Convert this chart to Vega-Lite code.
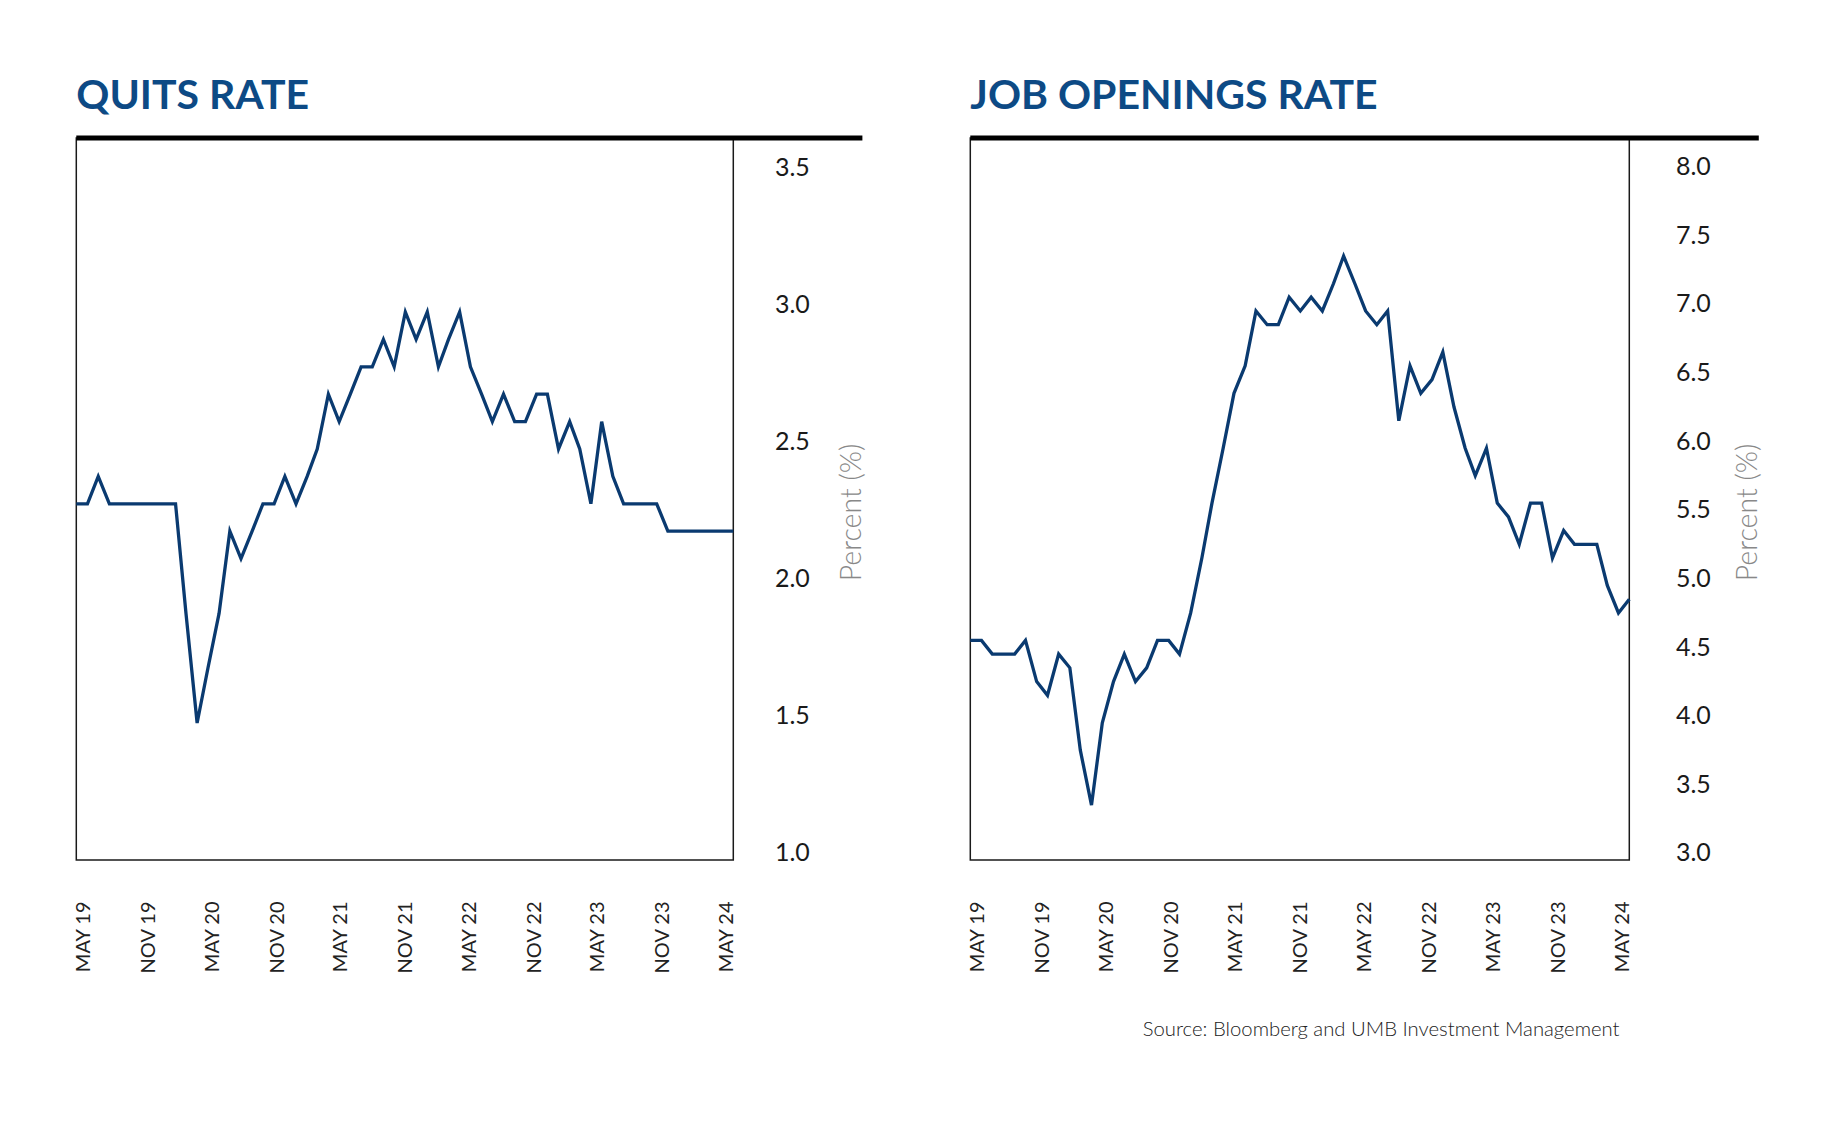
{
  "$schema": "https://vega.github.io/schema/vega-lite/v6.json",
  "background": "white",
  "padding": {"left": 68.3, "top": 75, "right": 10, "bottom": 10},
  "bounds": "flush",
  "spacing": 237,
  "title": {
    "text": "Source: Bloomberg and UMB Investment Management",
    "orient": "bottom",
    "anchor": "end",
    "frame": "bounds",
    "offset": 46,
    "dx": -143,
    "baseline": "top",
    "font": "Lato",
    "fontSize": 20.3,
    "fontWeight": 300,
    "color": "#222222"
  },
  "hconcat": [
    {
      "width": 657,
      "height": 722,
      "title": {"text": "QUITS RATE"},
      "layer": [
        {
          "data": {"values": [
            {"date": "2019/05/01", "v": 2.3}, {"date": "2019/06/01", "v": 2.3}, {"date": "2019/07/01", "v": 2.4},
            {"date": "2019/08/01", "v": 2.3}, {"date": "2019/09/01", "v": 2.3}, {"date": "2019/10/01", "v": 2.3},
            {"date": "2019/11/01", "v": 2.3}, {"date": "2019/12/01", "v": 2.3}, {"date": "2020/01/01", "v": 2.3},
            {"date": "2020/02/01", "v": 2.3}, {"date": "2020/03/01", "v": 1.9}, {"date": "2020/04/01", "v": 1.5},
            {"date": "2020/05/01", "v": 1.7}, {"date": "2020/06/01", "v": 1.9}, {"date": "2020/07/01", "v": 2.2},
            {"date": "2020/08/01", "v": 2.1}, {"date": "2020/09/01", "v": 2.2}, {"date": "2020/10/01", "v": 2.3},
            {"date": "2020/11/01", "v": 2.3}, {"date": "2020/12/01", "v": 2.4}, {"date": "2021/01/01", "v": 2.3},
            {"date": "2021/02/01", "v": 2.4}, {"date": "2021/03/01", "v": 2.5}, {"date": "2021/04/01", "v": 2.7},
            {"date": "2021/05/01", "v": 2.6}, {"date": "2021/06/01", "v": 2.7}, {"date": "2021/07/01", "v": 2.8},
            {"date": "2021/08/01", "v": 2.8}, {"date": "2021/09/01", "v": 2.9}, {"date": "2021/10/01", "v": 2.8},
            {"date": "2021/11/01", "v": 3.0}, {"date": "2021/12/01", "v": 2.9}, {"date": "2022/01/01", "v": 3.0},
            {"date": "2022/02/01", "v": 2.8}, {"date": "2022/03/01", "v": 2.9}, {"date": "2022/04/01", "v": 3.0},
            {"date": "2022/05/01", "v": 2.8}, {"date": "2022/06/01", "v": 2.7}, {"date": "2022/07/01", "v": 2.6},
            {"date": "2022/08/01", "v": 2.7}, {"date": "2022/09/01", "v": 2.6}, {"date": "2022/10/01", "v": 2.6},
            {"date": "2022/11/01", "v": 2.7}, {"date": "2022/12/01", "v": 2.7}, {"date": "2023/01/01", "v": 2.5},
            {"date": "2023/02/01", "v": 2.6}, {"date": "2023/03/01", "v": 2.5}, {"date": "2023/04/01", "v": 2.3},
            {"date": "2023/05/01", "v": 2.6}, {"date": "2023/06/01", "v": 2.4}, {"date": "2023/07/01", "v": 2.3},
            {"date": "2023/08/01", "v": 2.3}, {"date": "2023/09/01", "v": 2.3}, {"date": "2023/10/01", "v": 2.3},
            {"date": "2023/11/01", "v": 2.2}, {"date": "2023/12/01", "v": 2.2}, {"date": "2024/01/01", "v": 2.2},
            {"date": "2024/02/01", "v": 2.2}, {"date": "2024/03/01", "v": 2.2}, {"date": "2024/04/01", "v": 2.2},
            {"date": "2024/05/01", "v": 2.2}
          ]},
          "mark": {"type": "line", "color": "#0a3a70", "strokeWidth": 3.3, "clip": false},
          "encoding": {
            "x": {
              "field": "date", "type": "temporal",
              "scale": {"domain": [{"year": 2019, "month": 5, "date": 1}, {"year": 2024, "month": 5, "date": 1}], "nice": false},
              "axis": {
                "values": [
                  {"year": 2019, "month": 5, "date": 1}, {"year": 2019, "month": 11, "date": 1},
                  {"year": 2020, "month": 5, "date": 1}, {"year": 2020, "month": 11, "date": 1},
                  {"year": 2021, "month": 5, "date": 1}, {"year": 2021, "month": 11, "date": 1},
                  {"year": 2022, "month": 5, "date": 1}, {"year": 2022, "month": 11, "date": 1},
                  {"year": 2023, "month": 5, "date": 1}, {"year": 2023, "month": 11, "date": 1},
                  {"year": 2024, "month": 5, "date": 1}
                ],
                "labelExpr": "upper(timeFormat(datum.value, '%b %y'))",
                "labelAngle": 270,
                "labelPadding": 41,
                "labelOffset": {"expr": "7 - 13.4 * datum.index"},
                "labelFlush": false,
                "labelOverlap": false,
                "labelBound": false,
                "ticks": false,
                "tickSize": 0,
                "domain": false,
                "grid": false,
                "labelFontSize": 20,
                "labelColor": "#222222",
                "title": null
              }
            },
            "y": {
              "field": "v", "type": "quantitative",
              "scale": {"domain": [1, 3.635], "nice": false, "zero": false},
              "axis": {
                "orient": "right",
                "values": [1, 1.5, 2, 2.5, 3, 3.5],
                "format": ".1f",
                "labelAlign": "right",
                "labelPadding": 76,
                "labelOffset": -7,
                "labelFontSize": 25,
                "labelColor": "#1a1a1a",
                "labelFlush": false,
                "labelOverlap": false,
                "ticks": false,
                "tickSize": 0,
                "domain": false,
                "grid": false,
                "title": "Percent (%)",
                "titleAngle": 270,
                "titleX": 118,
                "titleY": 374,
                "titleAlign": "center",
                "titleBaseline": "middle",
                "titleFont": "Lato",
                "titleFontSize": 28.5,
                "titleFontWeight": 300,
                "titleColor": "#888888"
              }
            }
          }
        },
        {
          "data": {"values": [{}]},
          "mark": {"type": "rule", "color": "#000000", "strokeWidth": 5, "clip": false},
          "encoding": {
            "x": {"datum": {"year": 2019, "month": 5, "date": 1}, "type": "temporal"},
            "x2": {"datum": {"year": 2025, "month": 4, "date": 25}},
            "y": {"datum": 3.635, "type": "quantitative"}
          }
        }
      ]
    },
    {
      "width": 659,
      "height": 722,
      "title": {"text": "JOB OPENINGS RATE"},
      "layer": [
        {
          "data": {"values": [
            {"date": "2019/05/01", "v": 4.6}, {"date": "2019/06/01", "v": 4.6}, {"date": "2019/07/01", "v": 4.5},
            {"date": "2019/08/01", "v": 4.5}, {"date": "2019/09/01", "v": 4.5}, {"date": "2019/10/01", "v": 4.6},
            {"date": "2019/11/01", "v": 4.3}, {"date": "2019/12/01", "v": 4.2}, {"date": "2020/01/01", "v": 4.5},
            {"date": "2020/02/01", "v": 4.4}, {"date": "2020/03/01", "v": 3.8}, {"date": "2020/04/01", "v": 3.4},
            {"date": "2020/05/01", "v": 4.0}, {"date": "2020/06/01", "v": 4.3}, {"date": "2020/07/01", "v": 4.5},
            {"date": "2020/08/01", "v": 4.3}, {"date": "2020/09/01", "v": 4.4}, {"date": "2020/10/01", "v": 4.6},
            {"date": "2020/11/01", "v": 4.6}, {"date": "2020/12/01", "v": 4.5}, {"date": "2021/01/01", "v": 4.8},
            {"date": "2021/02/01", "v": 5.2}, {"date": "2021/03/01", "v": 5.6}, {"date": "2021/04/01", "v": 6.0},
            {"date": "2021/05/01", "v": 6.4}, {"date": "2021/06/01", "v": 6.6}, {"date": "2021/07/01", "v": 7.0},
            {"date": "2021/08/01", "v": 6.9}, {"date": "2021/09/01", "v": 6.9}, {"date": "2021/10/01", "v": 7.1},
            {"date": "2021/11/01", "v": 7.0}, {"date": "2021/12/01", "v": 7.1}, {"date": "2022/01/01", "v": 7.0},
            {"date": "2022/02/01", "v": 7.2}, {"date": "2022/03/01", "v": 7.4}, {"date": "2022/04/01", "v": 7.2},
            {"date": "2022/05/01", "v": 7.0}, {"date": "2022/06/01", "v": 6.9}, {"date": "2022/07/01", "v": 7.0},
            {"date": "2022/08/01", "v": 6.2}, {"date": "2022/09/01", "v": 6.6}, {"date": "2022/10/01", "v": 6.4},
            {"date": "2022/11/01", "v": 6.5}, {"date": "2022/12/01", "v": 6.7}, {"date": "2023/01/01", "v": 6.3},
            {"date": "2023/02/01", "v": 6.0}, {"date": "2023/03/01", "v": 5.8}, {"date": "2023/04/01", "v": 6.0},
            {"date": "2023/05/01", "v": 5.6}, {"date": "2023/06/01", "v": 5.5}, {"date": "2023/07/01", "v": 5.3},
            {"date": "2023/08/01", "v": 5.6}, {"date": "2023/09/01", "v": 5.6}, {"date": "2023/10/01", "v": 5.2},
            {"date": "2023/11/01", "v": 5.4}, {"date": "2023/12/01", "v": 5.3}, {"date": "2024/01/01", "v": 5.3},
            {"date": "2024/02/01", "v": 5.3}, {"date": "2024/03/01", "v": 5.0}, {"date": "2024/04/01", "v": 4.8},
            {"date": "2024/05/01", "v": 4.9}
          ]},
          "mark": {"type": "line", "color": "#0a3a70", "strokeWidth": 3.3, "clip": false},
          "encoding": {
            "x": {
              "field": "date", "type": "temporal",
              "scale": {"domain": [{"year": 2019, "month": 5, "date": 1}, {"year": 2024, "month": 5, "date": 1}], "nice": false},
              "axis": {
                "values": [
                  {"year": 2019, "month": 5, "date": 1}, {"year": 2019, "month": 11, "date": 1},
                  {"year": 2020, "month": 5, "date": 1}, {"year": 2020, "month": 11, "date": 1},
                  {"year": 2021, "month": 5, "date": 1}, {"year": 2021, "month": 11, "date": 1},
                  {"year": 2022, "month": 5, "date": 1}, {"year": 2022, "month": 11, "date": 1},
                  {"year": 2023, "month": 5, "date": 1}, {"year": 2023, "month": 11, "date": 1},
                  {"year": 2024, "month": 5, "date": 1}
                ],
                "labelExpr": "upper(timeFormat(datum.value, '%b %y'))",
                "labelAngle": 270,
                "labelPadding": 41,
                "labelOffset": {"expr": "7 - 13.4 * datum.index"},
                "labelFlush": false,
                "labelOverlap": false,
                "labelBound": false,
                "ticks": false,
                "tickSize": 0,
                "domain": false,
                "grid": false,
                "labelFontSize": 20,
                "labelColor": "#222222",
                "title": null
              }
            },
            "y": {
              "field": "v", "type": "quantitative",
              "scale": {"domain": [3, 8.26], "nice": false, "zero": false},
              "axis": {
                "orient": "right",
                "values": [3, 3.5, 4, 4.5, 5, 5.5, 6, 6.5, 7, 7.5, 8],
                "format": ".1f",
                "labelAlign": "right",
                "labelPadding": 81,
                "labelOffset": -7,
                "labelFontSize": 25,
                "labelColor": "#1a1a1a",
                "labelFlush": false,
                "labelOverlap": false,
                "ticks": false,
                "tickSize": 0,
                "domain": false,
                "grid": false,
                "title": "Percent (%)",
                "titleAngle": 270,
                "titleX": 118,
                "titleY": 374,
                "titleAlign": "center",
                "titleBaseline": "middle",
                "titleFont": "Lato",
                "titleFontSize": 28.5,
                "titleFontWeight": 300,
                "titleColor": "#888888"
              }
            }
          }
        },
        {
          "data": {"values": [{}]},
          "mark": {"type": "rule", "color": "#000000", "strokeWidth": 5, "clip": false},
          "encoding": {
            "x": {"datum": {"year": 2019, "month": 5, "date": 1}, "type": "temporal"},
            "x2": {"datum": {"year": 2025, "month": 4, "date": 25}},
            "y": {"datum": 8.26, "type": "quantitative"}
          }
        }
      ]
    }
  ],
  "config": {
    "font": "Lato",
    "view": {"stroke": "#1a1a1a", "strokeWidth": 1.5},
    "axis": {"labelFont": "Lato", "titleFont": "Lato"},
    "title": {
      "anchor": "start",
      "frame": "group",
      "font": "Lato",
      "fontSize": 41,
      "fontWeight": "bold",
      "color": "#0d4a85",
      "baseline": "alphabetic",
      "offset": 17.7
    }
  }
}
